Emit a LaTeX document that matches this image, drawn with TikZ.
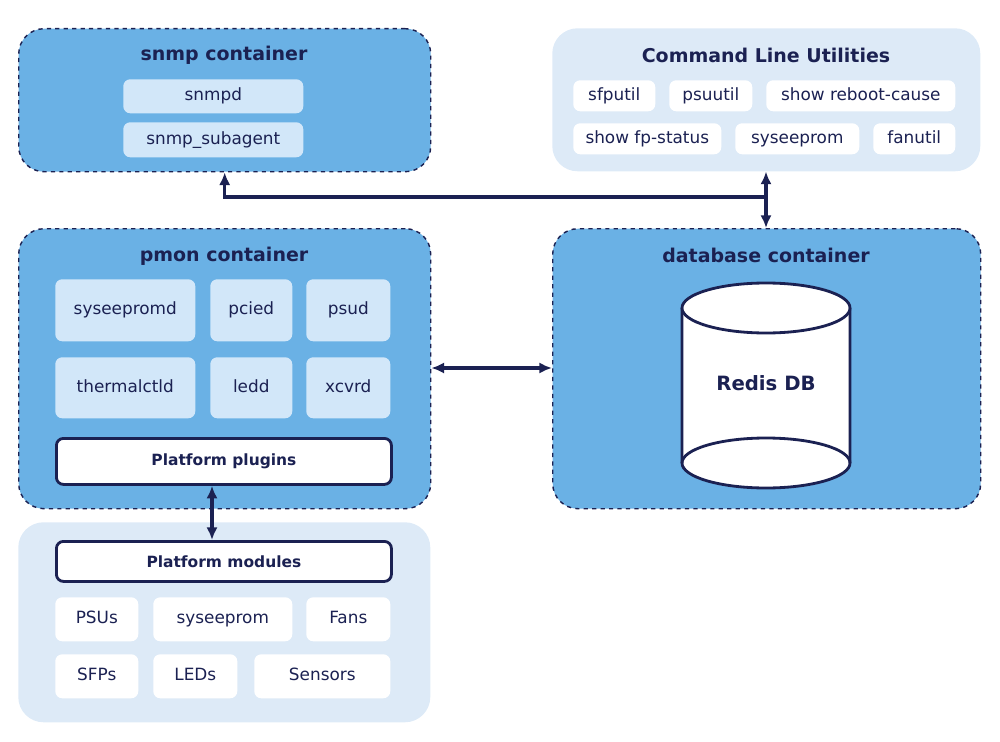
\documentclass[tikz,border=0pt]{standalone}
\usepackage{fontspec}
\setmainfont{DejaVu Sans}
\usetikzlibrary{arrows.meta}
\definecolor{navy}{HTML}{1B2152}
\definecolor{contblue}{HTML}{6AB1E5}
\definecolor{itemblue}{HTML}{D2E7F9}
\definecolor{panel}{HTML}{DDEAF7}
\tikzset{
  container/.style={rectangle, rounded corners=18, draw=navy, dashed, line width=1pt, fill=contblue, anchor=north west, inner sep=0pt},
  panelbox/.style={rectangle, rounded corners=18, fill=panel, anchor=north west, inner sep=0pt},
  item/.style={rectangle, rounded corners=5, fill=#1, text=navy, anchor=north west, inner sep=0pt, text height=1.6ex, text depth=.45ex, font=\fontsize{12}{14}\selectfont},
  item/.default=itemblue,
  plug/.style={rectangle, rounded corners=5, draw=navy, line width=2pt, fill=white, text=navy, anchor=north west, inner sep=0pt, font=\bfseries\fontsize{11}{13}\selectfont},
  title/.style={text=navy, font=\bfseries\fontsize{13.5}{16}\selectfont},
  tip/.style={-{Latex[length=9pt,width=8pt]}},
  link/.style={navy, line width=2.5pt, {Latex[length=9pt,width=8pt]}-{Latex[length=9pt,width=8pt]}},
}
\begin{document}
\begin{tikzpicture}[x=0.025cm, y=-0.025cm]
\useasboundingbox (0,0) rectangle (1000,742);

% snmp container
\node[container, minimum width=412*0.025cm, minimum height=143*0.025cm] (snmp) at (18,28) {};
\node[title] (snmpt) at (224,55) {snmp container};
\node[item, minimum width=180*0.025cm, minimum height=34*0.025cm] (snmpd) at (123,79) {snmpd};
\node[item, minimum width=180*0.025cm, minimum height=35*0.025cm] (subagent) at (123,122) {snmp\_subagent};

% command line utilities
\node[panelbox, minimum width=428*0.025cm, minimum height=143*0.025cm] (clu) at (552,28) {};
\node[title] (clut) at (766,55) {Command Line Utilities};
\node[item=white, minimum width=82*0.025cm, minimum height=31*0.025cm] (sfputil) at (573,80) {sfputil};
\node[item=white, minimum width=83*0.025cm, minimum height=31*0.025cm] (psuutil) at (669,80) {psuutil};
\node[item=white, minimum width=189*0.025cm, minimum height=31*0.025cm] (reboot) at (766,80) {show reboot-cause};
\node[item=white, minimum width=148*0.025cm, minimum height=31*0.025cm] (fpstatus) at (573,123) {show fp-status};
\node[item=white, minimum width=124*0.025cm, minimum height=31*0.025cm] (syseeprom) at (735,123) {syseeprom};
\node[item=white, minimum width=82*0.025cm, minimum height=31*0.025cm] (fanutil) at (873,123) {fanutil};

% pmon container
\node[container, minimum width=412*0.025cm, minimum height=280*0.025cm] (pmon) at (18,228) {};
\node[title] (pmont) at (224,256) {pmon container};
\node[item, minimum width=140*0.025cm, minimum height=62*0.025cm] (syseepromd) at (55,279) {syseepromd};
\node[item, minimum width=82*0.025cm, minimum height=62*0.025cm] (pcied) at (210,279) {pcied};
\node[item, minimum width=84*0.025cm, minimum height=62*0.025cm] (psud) at (306,279) {psud};
\node[item, minimum width=140*0.025cm, minimum height=61*0.025cm] (thermal) at (55,357) {thermalctld};
\node[item, minimum width=82*0.025cm, minimum height=61*0.025cm] (ledd) at (210,357) {ledd};
\node[item, minimum width=84*0.025cm, minimum height=61*0.025cm] (xcvrd) at (306,357) {xcvrd};
\node[plug, minimum width=335*0.025cm, minimum height=46*0.025cm] (plugins) at (55,437) {Platform plugins};

% database container
\node[container, minimum width=428*0.025cm, minimum height=280*0.025cm] (db) at (552,228) {};
\node[title] (dbt) at (766,255) {database container};
\draw[navy, line width=2pt, fill=white] (682,308) -- (682,463) arc[start angle=180, end angle=360, x radius=84, y radius=-25] -- (850,308);
\draw[navy, line width=2pt, fill=white] (766,308) ellipse[x radius=84, y radius=25];
\node[title, font=\bfseries\fontsize{14}{16}\selectfont] (redis) at (766,383) {Redis DB};
\draw[navy, line width=2pt] (682,463) arc[start angle=180, end angle=0, x radius=84, y radius=-25];

% platform modules
\node[panelbox, minimum width=412*0.025cm, minimum height=200*0.025cm] (hw) at (18,522) {};
\node[plug, minimum width=335*0.025cm, minimum height=40*0.025cm] (modules) at (55,540) {Platform modules};
\node[item=white, minimum width=83*0.025cm, minimum height=44*0.025cm] (psus) at (55,597) {PSUs};
\node[item=white, minimum width=139*0.025cm, minimum height=44*0.025cm] (mseeprom) at (153,597) {syseeprom};
\node[item=white, minimum width=84*0.025cm, minimum height=44*0.025cm] (fans) at (306,597) {Fans};
\node[item=white, minimum width=83*0.025cm, minimum height=44*0.025cm] (sfps) at (55,654) {SFPs};
\node[item=white, minimum width=84*0.025cm, minimum height=44*0.025cm] (leds) at (153,654) {LEDs};
\node[item=white, minimum width=136*0.025cm, minimum height=44*0.025cm] (sensors) at (254,654) {Sensors};

% connectors
\coordinate (junction) at (766,197);
\draw[navy, line width=2.5pt, tip] (junction) -| (snmp.south);
\draw[link] (clu.south -| junction) -- (db.north -| junction);
\draw[link] (pmon.east |- 0,368) -- (db.west |- 0,368);
\draw[link] (plugins.south -| 212,0) -- (modules.north -| 212,0);
\end{tikzpicture}
\end{document}
